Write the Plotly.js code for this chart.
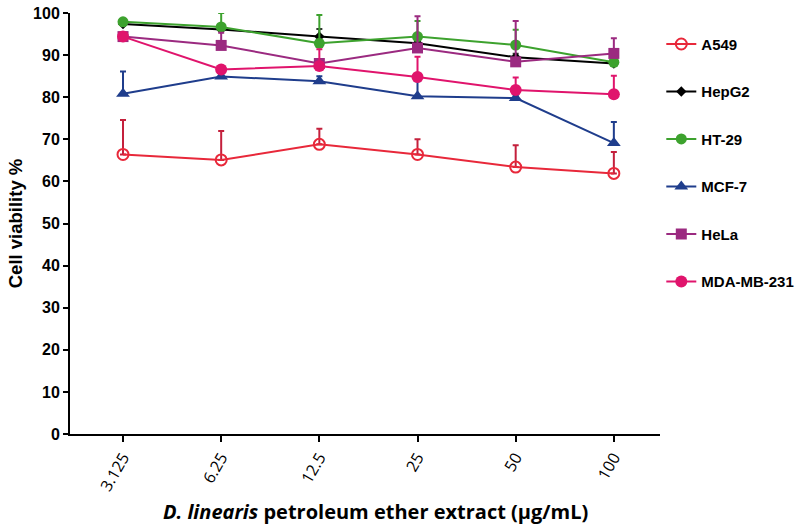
<!DOCTYPE html>
<html>
<head>
<meta charset="utf-8">
<script src="https://cdn.plot.ly/plotly-3.0.1.min.js"></script>
<style>html,body{margin:0;padding:0;background:#fff;}#chart{width:800px;height:529px;}</style>
</head>
<body>
<div id="chart"></div>
<script>
// Concentrations (µg/mL)
const doses = ["3.125", "6.25", "12.5", "25", "50", "100"];

// Cell viability % (mean) and upper error (SD)
const a549      = [66.4, 65.1, 68.8, 66.4, 63.4, 61.9];
const a549Err   = [8.2, 6.9, 3.7, 3.6, 5.2, 5.1];
const hepg2     = [97.4, 96.1, 94.4, 92.8, 89.5, 88.0];
const hepg2Err  = [0.6, 0.8, 1.8, 0.8, 0.8, 0.6];
const ht29      = [97.9, 96.7, 92.8, 94.4, 92.4, 88.3];
const ht29Err   = [0.5, 3.3, 6.7, 3.7, 3.6, 0.5];
const mcf7      = [80.8, 84.9, 83.8, 80.2, 79.8, 69.1];
const mcf7Err   = [5.3, 0.5, 1.2, 3.6, 0.5, 5.0];
const hela      = [94.4, 92.3, 88.0, 91.7, 88.4, 90.4];
const helaErr   = [0.8, 3.0, 1.0, 7.5, 9.7, 3.6];
const mda       = [94.4, 86.6, 87.4, 84.8, 81.7, 80.7];
const mdaErr    = [0.8, 0.8, 4.0, 4.8, 3.0, 4.4];

const names = ["A549", "HepG2", "HT-29", "MCF-7", "HeLa", "MDA-MB-231"];
const xTitle = "<b><i>D. linearis</i> petroleum ether extract (µg/mL)</b>";
const yTitle = "Cell viability %";

function trace(name, y, err, color, errColor, symbol, size, mline) {
  return {
    type: "scatter", mode: "lines+markers", name: name, legendgroup: name,
    x: doses, y: y,
    line: {color: color, width: 2},
    marker: {symbol: symbol, size: size, color: color, line: mline || {width: 0}},
    error_y: {type: "data", symmetric: false, array: err, arrayminus: err.map(() => 0),
              color: errColor, thickness: 2, width: 3}
  };
}

const data = [
  trace(names[0], a549, a549Err, "#E8283A", "#C4203C", "circle-open", 11, {width: 2, color: "#E8283A"}),
  trace(names[1], hepg2, hepg2Err, "#000000", "#333333", "diamond", 8),
  trace(names[2], ht29, ht29Err, "#3DA22E", "#3DA22E", "circle", 11),
  trace(names[3], mcf7, mcf7Err, "#1F3D8C", "#1F3D8C", "triangle-up", 12),
  trace(names[4], hela, helaErr, "#9B2A80", "#9B2A80", "square", 11),
  trace(names[5], mda, mdaErr, "#E0146C", "#E0146C", "circle", 12)
];

const arialBold = {family: "Liberation Sans", color: "#000", weight: "bold"};

const layout = {
  width: 800, height: 529,
  margin: {l: 70, r: 0, t: 13, b: 95, autoexpand: false},
  paper_bgcolor: "#ffffff", plot_bgcolor: "#ffffff",
  showlegend: true,
  legend: {
    x: 0.81, xanchor: "left", y: 0.965, yanchor: "top",
    font: Object.assign({}, arialBold, {size: 15}),
    tracegroupgap: 25, bgcolor: "rgba(0,0,0,0)"
  },
  xaxis: {
    domain: [0, 0.8082], automargin: false,
    type: "category", range: [-0.54, 5.47],
    showgrid: false, zeroline: false,
    showline: true, linecolor: "#000", linewidth: 2,
    ticks: "outside", ticklen: 6, tickwidth: 2, tickcolor: "#000",
    tickangle: -60,
    tickfont: {family: "Open Sans", size: 16, color: "#000"}
  },
  yaxis: {
    automargin: false,
    range: [0, 100], dtick: 10,
    showgrid: false, zeroline: false,
    showline: true, linecolor: "#000", linewidth: 2,
    ticks: "outside", ticklen: 5, tickwidth: 2, tickcolor: "#000",
    tickfont: Object.assign({}, arialBold, {size: 16}),
    title: {text: yTitle,
            font: Object.assign({}, arialBold, {size: 18.5}), standoff: 6}
  },
  annotations: [{
    text: xTitle, xref: "paper", yref: "paper",
    x: 0.418, y: -0.185, xanchor: "center", yanchor: "middle",
    showarrow: false, font: {family: "Open Sans", size: 20, color: "#000"}
  }]
};

Plotly.newPlot("chart", data, layout, {displayModeBar: false, staticPlot: true});
</script>
</body>
</html>
